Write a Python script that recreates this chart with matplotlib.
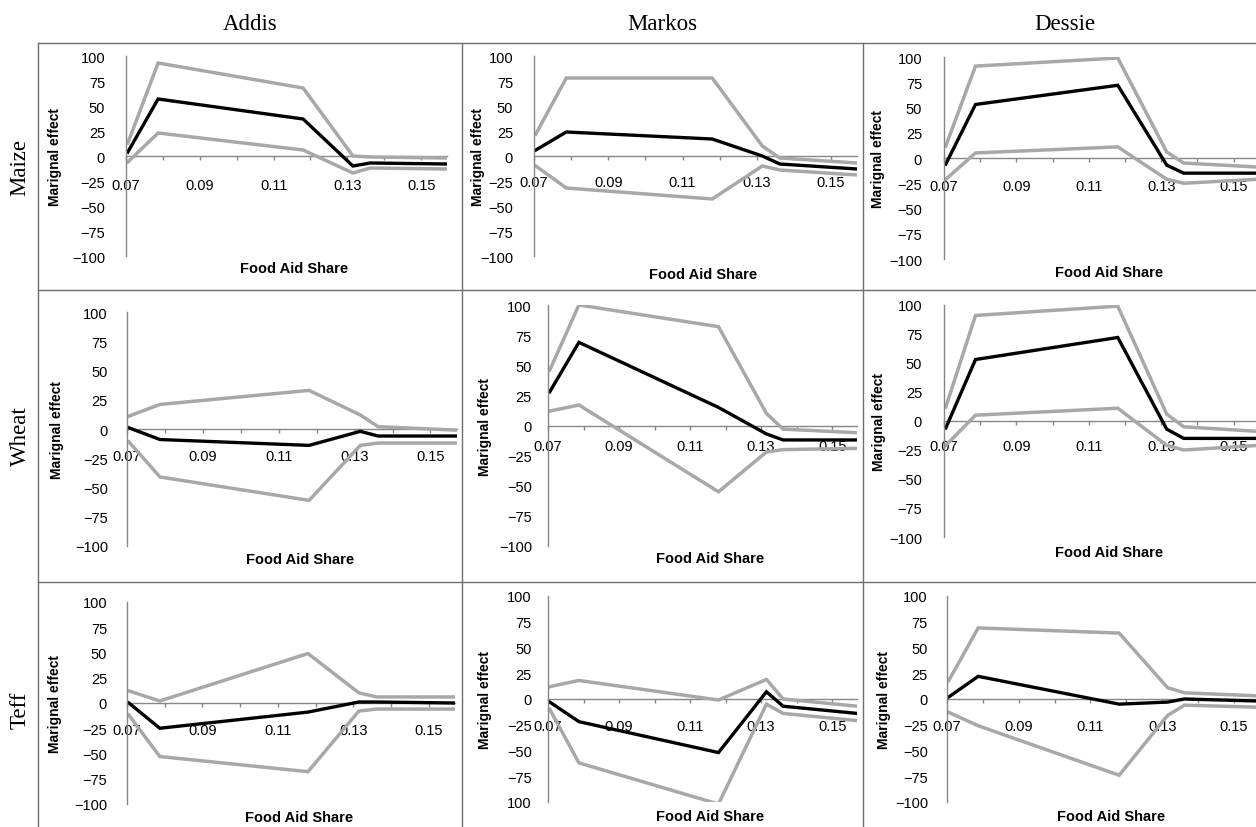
import matplotlib
matplotlib.use('Agg')
import matplotlib.pyplot as plt
from matplotlib.lines import Line2D

# ---------------- data ----------------
food_aid_share = [0.0705, 0.0787, 0.118, 0.1315, 0.1362, 0.157]

markets = ['Addis', 'Markos', 'Dessie']
crops = ['Maize', 'Wheat', 'Teff']

x_major_ticks = [0.07, 0.09, 0.11, 0.13, 0.15]
x_major_labels = ['0.07', '0.09', '0.11', '0.13', '0.15']
x_minor_ticks = [0.08, 0.10, 0.12, 0.14]
y_ticks = [-100, -75, -50, -25, 0, 25, 50, 75, 100]
y_labels = ['\u2212100', '\u221275', '\u221250', '\u221225', '0', '25', '50', '75', '100']
y_labels_cut = ['100', '\u221275', '\u221250', '\u221225', '0', '25', '50', '75', '100']

maize_addis_hi = [13, 93, 68, 0, -1, -2]
maize_addis_est = [4, 57, 37, -10, -7, -8]
maize_addis_lo = [-6, 23, 6, -17, -12, -13]
maize_markos_hi = [22, 78, 78, 10, -2, -7]
maize_markos_est = [6, 24, 17, 0, -8, -13]
maize_markos_lo = [-10, -32, -43, -10, -14, -19]
maize_dessie_hi = [12, 91, 99, 6, -5, -9]
maize_dessie_est = [-6, 53, 72, -7, -15, -15]
maize_dessie_lo = [-21, 5, 11, -21, -25, -21]

wheat_addis_hi = [11, 21, 33, 12, 2, -1]
wheat_addis_est = [1, -9, -14, -2, -6, -6]
wheat_addis_lo = [-11, -41, -61, -14, -12, -12]
wheat_markos_hi = [46, 100, 82, 10, -3, -6]
wheat_markos_est = [28, 69, 15, -7, -12, -12]
wheat_markos_lo = [12, 17, -55, -22, -20, -19]
wheat_dessie_hi = [12, 91, 99, 6, -5, -9]
wheat_dessie_est = [-6, 53, 72, -7, -15, -15]
wheat_dessie_lo = [-21, 5, 11, -21, -25, -21]

teff_addis_hi = [12, 2, 49, 10, 6, 6]
teff_addis_est = [0, -25, -9, 1, 1, 0]
teff_addis_lo = [-12, -53, -68, -8, -6, -6]
teff_markos_hi = [12, 18, -1, 19, 0, -7]
teff_markos_est = [-3, -22, -52, 7, -7, -14]
teff_markos_lo = [-10, -62, -102, -5, -14, -21]
teff_dessie_hi = [18, 69, 64, 11, 6, 3]
teff_dessie_est = [2, 22, -5, -3, 0, -2]
teff_dessie_lo = [-13, -26, -74, -16, -6, -8]

series = {
    ('Maize', 'Addis'): (maize_addis_hi, maize_addis_est, maize_addis_lo),
    ('Maize', 'Markos'): (maize_markos_hi, maize_markos_est, maize_markos_lo),
    ('Maize', 'Dessie'): (maize_dessie_hi, maize_dessie_est, maize_dessie_lo),
    ('Wheat', 'Addis'): (wheat_addis_hi, wheat_addis_est, wheat_addis_lo),
    ('Wheat', 'Markos'): (wheat_markos_hi, wheat_markos_est, wheat_markos_lo),
    ('Wheat', 'Dessie'): (wheat_dessie_hi, wheat_dessie_est, wheat_dessie_lo),
    ('Teff', 'Addis'): (teff_addis_hi, teff_addis_est, teff_addis_lo),
    ('Teff', 'Markos'): (teff_markos_hi, teff_markos_est, teff_markos_lo),
    ('Teff', 'Dessie'): (teff_dessie_hi, teff_dessie_est, teff_dessie_lo),
}

# ---------------- layout (pixels) ----------------
W, H = 1256, 828
# x0, x1, ytop, ybot, ylabel offset, ytick pad, xtick label offset, xlabel offset
geom = {
    ('Maize', 'Addis'): (126, 447, 57, 257, 71, 21, 29, 12),
    ('Maize', 'Markos'): (534, 857, 57, 257, 56, 21, 26, 18),
    ('Maize', 'Dessie'): (944, 1259, 58, 260, 66, 22, 28, 13),
    ('Wheat', 'Addis'): (127, 457, 313, 547, 70, 19, 27, 13),
    ('Wheat', 'Markos'): (548, 857, 306, 547, 63, 16, 20, 12),
    ('Wheat', 'Dessie'): (944, 1259, 306, 538, 65, 22, 25, 15),
    ('Teff', 'Addis'): (127, 455, 603, 805, 72, 20, 27, 13),
    ('Teff', 'Markos'): (548, 857, 597, 803, 63, 16, 27, 14),
    ('Teff', 'Dessie'): (947, 1259, 597, 803, 63, 19, 27, 14),
}

SANS = 'Liberation Sans'
SERIF = 'Liberation Serif'
CI_GRAY = '#a8a8a8'
AXIS_GRAY = '#868686'
TABLE_GRAY = '#6e6e6e'
PX = 100 / 72.0  # pixels per point

fig = plt.figure(figsize=(W / 100, H / 100), dpi=100)
fig.patch.set_facecolor('white')

for crop in crops:
    for mk in markets:
        x0, x1, yt, yb, yl_off, yt_pad, xt_off, xl_off = geom[(crop, mk)]
        wpx, hpx = x1 - x0, yb - yt
        ax = fig.add_axes([x0 / W, 1 - yb / H, wpx / W, hpx / H])
        ax.set_facecolor('none')
        hi, est, lo = series[(crop, mk)]
        ax.plot(food_aid_share, hi, color=CI_GRAY, lw=2.5, solid_joinstyle='miter')
        ax.plot(food_aid_share, lo, color=CI_GRAY, lw=2.5, solid_joinstyle='miter')
        ax.plot(food_aid_share, est, color='black', lw=2.4, solid_joinstyle='miter')
        ax.set_xlim(0.07, 0.157)
        ax.set_ylim(-100, 100)

        for s in ('top', 'right'):
            ax.spines[s].set_visible(False)
        ax.spines['left'].set_color(AXIS_GRAY)
        ax.spines['left'].set_linewidth(1.0)
        ax.spines['bottom'].set_color(AXIS_GRAY)
        ax.spines['bottom'].set_linewidth(1.0)
        ax.spines['bottom'].set_position(('data', 0))
        ax.spines['bottom'].set_zorder(0.5)

        ax.set_xticks(x_major_ticks)
        ax.set_xticklabels(x_major_labels, family=SANS, fontsize=10.5)
        ax.set_xticks(x_minor_ticks, minor=True)
        ax.tick_params(axis='x', which='both', direction='out', length=3,
                       width=1, color=AXIS_GRAY)
        ax.tick_params(axis='x', which='major', pad=max(0.0, (xt_off - 8 - 3) / PX))

        ax.set_yticks(y_ticks)
        labs = y_labels_cut if (crop, mk) == ('Teff', 'Markos') else y_labels
        ax.set_yticklabels(labs, family=SANS, fontsize=10.5)
        ax.tick_params(axis='y', length=0, pad=yt_pad / PX)

        ax.set_xlabel('Food Aid Share', family=SANS, fontsize=10.5, fontweight='bold')
        ax.xaxis.set_label_coords(0.5 + 8 / wpx, -xl_off / hpx)
        ax.xaxis.label.set_va('center')
        ax.set_ylabel('Marignal effect', family=SANS, fontsize=10, fontweight='bold')
        ax.yaxis.set_label_coords(-yl_off / wpx, 0.5)
        ax.yaxis.label.set_va('center')

# ---------------- table frame ----------------
def fline(xs, ys):
    fig.add_artist(Line2D([x / W for x in xs], [1 - y / H for y in ys],
                          transform=fig.transFigure, color=TABLE_GRAY, lw=1.0))

fline([38, W], [44, 44])
fline([38, W], [291, 291])
fline([38, W], [583, 583])
for xv in (38, 462, 863):
    fline([xv, xv], [44, H])

# headers
header_pos = {'Addis': 250, 'Markos': 662, 'Dessie': 1065}
for mk in markets:
    fig.text(header_pos[mk] / W, 1 - 25 / H, mk, family=SERIF, fontsize=16.5,
             ha='center', va='center')
row_pos = {'Maize': 167, 'Wheat': 436, 'Teff': 710}
for crop in crops:
    fig.text(20 / W, 1 - row_pos[crop] / H, crop, family=SERIF, fontsize=16.5,
             ha='center', va='center', rotation=90)

fig.savefig('out.png', dpi=100)
